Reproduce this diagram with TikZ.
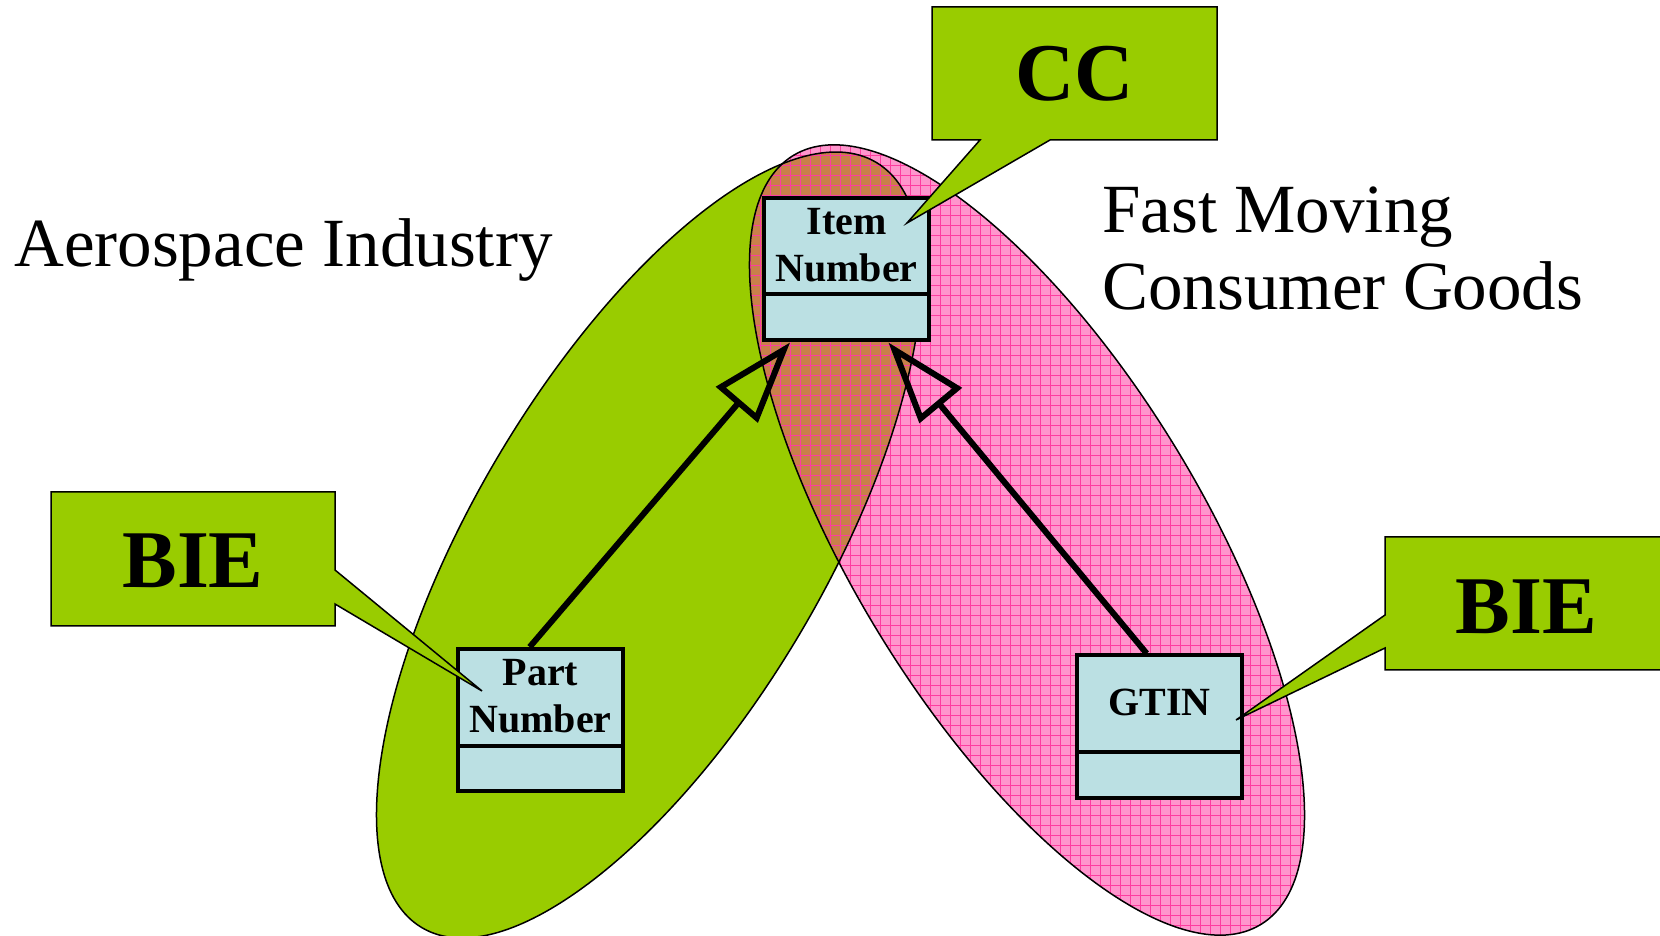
\documentclass[tikz,border=0pt]{standalone}
\usepackage{fontspec}
\setmainfont{Liberation Serif}
\usetikzlibrary{arrows.meta,calc}
\definecolor{cgreen}{RGB}{153,204,0}
\definecolor{cpink}{RGB}{255,150,205}
\definecolor{cgrid}{RGB}{255,60,160}
\definecolor{cbrown}{RGB}{200,128,74}
\definecolor{cbox}{RGB}{187,224,227}
\begin{document}
\begin{tikzpicture}[x=1pt,y=1pt,
  umlbox/.style={draw=black, line width=4pt, fill=cbox, minimum width=165pt, minimum height=142pt, inner sep=0pt},
  umltext/.style={font=\bfseries\fontsize{40}{47}\selectfont, align=center, inner sep=0pt},
  calloutbox/.style={draw=black, line width=1.5pt, fill=cgreen, line join=miter},
  callouttext/.style={font=\bfseries\fontsize{82}{90}\selectfont, inner sep=0pt},
  region/.style={font=\fontsize{69}{77}\selectfont, inner sep=0pt, anchor=base west},
  gen/.style={line width=6pt, -{Triangle[open, length=82pt, width=54pt, line width=6pt]}},
  greenell/.style={shift={(649,390)}, rotate=59.3},
  pinkell/.style={shift={(1027,395)}, rotate=-58.7}
]
\useasboundingbox (0,0) rectangle (1660,935);
% ellipses
\fill[cgreen, greenell] (0,0) ellipse [x radius=445pt, y radius=175pt];
\fill[cpink, pinkell] (0,0) ellipse [x radius=450pt, y radius=175pt];
\begin{scope}
  \clip[greenell] (0,0) ellipse [x radius=445pt, y radius=175pt];
  \fill[cbrown, pinkell] (0,0) ellipse [x radius=450pt, y radius=175pt];
\end{scope}
\begin{scope}
  \clip[pinkell] (0,0) ellipse [x radius=450pt, y radius=175pt];
  \foreach \gx in {600,610,...,1500} \draw[cgrid, line width=0.8pt] (\gx,0) -- (\gx,935);
  \foreach \gy in {0,10,...,930} \draw[cgrid, line width=0.8pt] (600,\gy) -- (1500,\gy);
\end{scope}
\draw[black, line width=1.5pt, greenell] (0,0) ellipse [x radius=445pt, y radius=175pt];
\draw[black, line width=1.5pt, pinkell] (0,0) ellipse [x radius=450pt, y radius=175pt];
% UML boxes
\node[umlbox] (item) at (846.5,665.5) {};
\draw[line width=4pt] ([yshift=-24.5pt]item.west) -- ([yshift=-24.5pt]item.east);
\node[umltext] (itemt) at ([yshift=24pt]item.center) {Item\\Number};
\node[umlbox] (part) at (540.5,215) {};
\draw[line width=4pt] ([yshift=-26pt]part.west) -- ([yshift=-26pt]part.east);
\node[umltext] (partt) at ([yshift=23.5pt]part.center) {Part\\Number};
\node[umlbox] (gtin) at (1159.5,208.5) {};
\draw[line width=4pt] ([yshift=-25.5pt]gtin.west) -- ([yshift=-25.5pt]gtin.east);
\node[umltext] (gtint) at ([yshift=24pt]gtin.center) {GTIN};
% generalization arrows
\draw[gen] ($(part.north west)!0.436!(part.north east)$) -- ($(item.south west)!0.166!(item.south east)$);
\draw[gen] ($(gtin.north west)!0.424!(gtin.north east)$) -- ($(item.south west)!0.748!(item.south east)$);
% callouts
\draw[calloutbox] (932,928) -- (1217,928) -- (1217,795) -- (1050,795) -- (907,712) -- (980,795) -- (932,795) -- cycle;
\node[callouttext] (cc) at (1074.5,861) {CC};
\draw[calloutbox] (51,443) -- (335,443) -- (335,365) -- (482,244) -- (335,331) -- (335,309) -- (51,309) -- cycle;
\node[callouttext] (bie1) at (193,374) {BIE};
\draw[calloutbox] (1385,398) -- (1670,398) -- (1670,265) -- (1385,265) -- (1385,287) -- (1236,215) -- (1385,320) -- cycle;
\node[callouttext] (bie2) at (1526.5,328.5) {BIE};
% region labels
\node[region] (aero) at (14,668) {Aerospace Industry};
\node[region] (fmcg1) at (1102,702) {Fast Moving};
\node[region] (fmcg2) at (1102,625) {Consumer Goods};
\end{tikzpicture}
\end{document}
